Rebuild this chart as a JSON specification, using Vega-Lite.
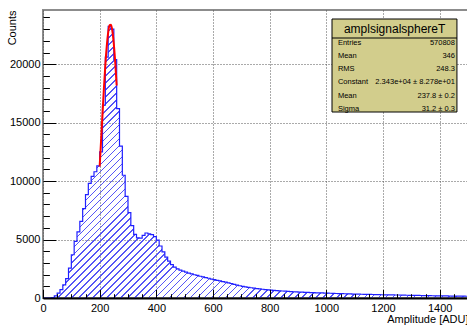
{
  "$schema": "https://vega.github.io/schema/vega-lite/v6.json",
  "width": 425,
  "height": 288,
  "autosize": "none",
  "padding": {"left": 43, "top": 10, "right": 0, "bottom": 27},
  "background": "white",
  "config": {
    "view": {"stroke": "#8c8c8c", "strokeWidth": 2},
    "font": "Liberation Sans",
    "axis": {"labelFont": "Liberation Sans", "titleFont": "Liberation Sans"}
  },
  "datasets": {
    "hist": [
      {"amp":0,"counts":0},{"amp":10,"counts":0},{"amp":20,"counts":0},{"amp":30,"counts":30},{"amp":40,"counts":190},
      {"amp":50,"counts":420},{"amp":60,"counts":720},{"amp":70,"counts":1120},{"amp":80,"counts":1650},{"amp":90,"counts":2550},
      {"amp":100,"counts":3700},{"amp":110,"counts":4850},{"amp":120,"counts":5650},{"amp":130,"counts":6550},{"amp":140,"counts":7650},
      {"amp":150,"counts":8850},{"amp":160,"counts":9800},{"amp":170,"counts":10400},{"amp":180,"counts":10800},{"amp":190,"counts":11300},
      {"amp":200,"counts":12500},{"amp":210,"counts":16500},{"amp":220,"counts":20600},{"amp":230,"counts":23250},{"amp":240,"counts":23000},
      {"amp":250,"counts":20400},{"amp":260,"counts":16200},{"amp":270,"counts":13000},{"amp":280,"counts":10500},{"amp":290,"counts":8700},
      {"amp":300,"counts":7300},{"amp":310,"counts":6200},{"amp":320,"counts":5450},{"amp":330,"counts":5150},{"amp":340,"counts":5120},
      {"amp":350,"counts":5350},{"amp":360,"counts":5560},{"amp":370,"counts":5480},{"amp":380,"counts":5430},{"amp":390,"counts":5250},
      {"amp":400,"counts":4950},{"amp":410,"counts":4450},{"amp":420,"counts":3950},{"amp":430,"counts":3500},{"amp":440,"counts":3150},
      {"amp":450,"counts":2850},{"amp":460,"counts":2650},{"amp":470,"counts":2500},{"amp":480,"counts":2390},{"amp":490,"counts":2300},
      {"amp":500,"counts":2210},{"amp":510,"counts":2130},{"amp":520,"counts":2060},{"amp":530,"counts":1990},{"amp":540,"counts":1930},
      {"amp":550,"counts":1860},{"amp":560,"counts":1800},{"amp":570,"counts":1740},{"amp":580,"counts":1690},{"amp":590,"counts":1620},
      {"amp":600,"counts":1570},{"amp":610,"counts":1510},{"amp":620,"counts":1460},{"amp":630,"counts":1400},{"amp":640,"counts":1350},
      {"amp":650,"counts":1300},{"amp":660,"counts":1240},{"amp":670,"counts":1170},{"amp":680,"counts":1110},{"amp":690,"counts":1050},
      {"amp":700,"counts":1000},{"amp":710,"counts":960},{"amp":720,"counts":915},{"amp":730,"counts":875},{"amp":740,"counts":845},
      {"amp":750,"counts":805},{"amp":760,"counts":775},{"amp":770,"counts":750},{"amp":780,"counts":720},{"amp":790,"counts":700},
      {"amp":800,"counts":675},{"amp":810,"counts":655},{"amp":820,"counts":635},{"amp":830,"counts":615},{"amp":840,"counts":600},
      {"amp":850,"counts":585},{"amp":860,"counts":565},{"amp":870,"counts":550},{"amp":880,"counts":535},{"amp":890,"counts":525},
      {"amp":900,"counts":510},{"amp":910,"counts":500},{"amp":920,"counts":485},{"amp":930,"counts":475},{"amp":940,"counts":465},
      {"amp":950,"counts":455},{"amp":960,"counts":445},{"amp":970,"counts":440},{"amp":980,"counts":430},{"amp":990,"counts":420},
      {"amp":1000,"counts":410},{"amp":1010,"counts":405},{"amp":1020,"counts":390},{"amp":1030,"counts":385},{"amp":1040,"counts":375},
      {"amp":1050,"counts":370},{"amp":1060,"counts":365},{"amp":1070,"counts":355},{"amp":1080,"counts":350},{"amp":1090,"counts":340},
      {"amp":1100,"counts":335},{"amp":1110,"counts":330},{"amp":1120,"counts":320},{"amp":1130,"counts":315},{"amp":1140,"counts":310},
      {"amp":1150,"counts":305},{"amp":1160,"counts":300},{"amp":1170,"counts":295},{"amp":1180,"counts":290},{"amp":1190,"counts":280},
      {"amp":1200,"counts":275},{"amp":1210,"counts":270},{"amp":1220,"counts":265},{"amp":1230,"counts":260},{"amp":1240,"counts":255},
      {"amp":1250,"counts":258},{"amp":1260,"counts":245},{"amp":1270,"counts":240},{"amp":1280,"counts":235},{"amp":1290,"counts":230},
      {"amp":1300,"counts":228},{"amp":1310,"counts":222},{"amp":1320,"counts":218},{"amp":1330,"counts":215},{"amp":1340,"counts":207},
      {"amp":1350,"counts":203},{"amp":1360,"counts":198},{"amp":1370,"counts":194},{"amp":1380,"counts":190},{"amp":1390,"counts":186},
      {"amp":1400,"counts":182},{"amp":1410,"counts":178},{"amp":1420,"counts":174},{"amp":1430,"counts":170},{"amp":1440,"counts":167},
      {"amp":1450,"counts":163},{"amp":1460,"counts":160},{"amp":1470,"counts":156},{"amp":1480,"counts":153},{"amp":1490,"counts":150},
      {"amp":1500,"counts":150}
    ],
    "fit": [
      {"amp":200,"counts":11250},{"amp":205,"counts":13480},{"amp":210,"counts":15750},{"amp":215,"counts":17940},
      {"amp":220,"counts":19910},{"amp":225,"counts":21530},{"amp":230,"counts":22710},{"amp":235,"counts":23340},
      {"amp":240,"counts":23370},{"amp":245,"counts":22820},{"amp":250,"counts":21710},{"amp":255,"counts":20130},
      {"amp":260,"counts":18180}
    ]
  },
  "resolve": {"axis": {"x": "independent", "y": "independent"}},
  "layer": [
    {
      "data": {"name": "hist"},
      "mark": {
        "type": "area",
        "interpolate": "step-after",
        "fillOpacity": 1,
        "fill": {
          "gradient": "linear", "x1": 0, "y1": 0, "x2": 1.1635, "y2": 0.7439,
          "stops": [
{"offset":0,"color":"#fff0"},{"offset":0,"color":"#5656f6"},{"offset":0.0022,"color":"#5656f6"},{"offset":0.0022,"color":"#fff0"},
{"offset":0.01,"color":"#fff0"},{"offset":0.01,"color":"#5656f6"},{"offset":0.0122,"color":"#5656f6"},{"offset":0.0122,"color":"#fff0"},
{"offset":0.02,"color":"#fff0"},{"offset":0.02,"color":"#5656f6"},{"offset":0.0222,"color":"#5656f6"},{"offset":0.0222,"color":"#fff0"},
{"offset":0.03,"color":"#fff0"},{"offset":0.03,"color":"#5656f6"},{"offset":0.0322,"color":"#5656f6"},{"offset":0.0322,"color":"#fff0"},
{"offset":0.04,"color":"#fff0"},{"offset":0.04,"color":"#5656f6"},{"offset":0.0422,"color":"#5656f6"},{"offset":0.0422,"color":"#fff0"},
{"offset":0.05,"color":"#fff0"},{"offset":0.05,"color":"#5656f6"},{"offset":0.0522,"color":"#5656f6"},{"offset":0.0522,"color":"#fff0"},
{"offset":0.06,"color":"#fff0"},{"offset":0.06,"color":"#5656f6"},{"offset":0.0622,"color":"#5656f6"},{"offset":0.0622,"color":"#fff0"},
{"offset":0.07,"color":"#fff0"},{"offset":0.07,"color":"#5656f6"},{"offset":0.0722,"color":"#5656f6"},{"offset":0.0722,"color":"#fff0"},
{"offset":0.08,"color":"#fff0"},{"offset":0.08,"color":"#5656f6"},{"offset":0.0822,"color":"#5656f6"},{"offset":0.0822,"color":"#fff0"},
{"offset":0.09,"color":"#fff0"},{"offset":0.09,"color":"#5656f6"},{"offset":0.0922,"color":"#5656f6"},{"offset":0.0922,"color":"#fff0"},
{"offset":0.10,"color":"#fff0"},{"offset":0.10,"color":"#5656f6"},{"offset":0.1022,"color":"#5656f6"},{"offset":0.1022,"color":"#fff0"},
{"offset":0.11,"color":"#fff0"},{"offset":0.11,"color":"#5656f6"},{"offset":0.1122,"color":"#5656f6"},{"offset":0.1122,"color":"#fff0"},
{"offset":0.12,"color":"#fff0"},{"offset":0.12,"color":"#5656f6"},{"offset":0.1222,"color":"#5656f6"},{"offset":0.1222,"color":"#fff0"},
{"offset":0.13,"color":"#fff0"},{"offset":0.13,"color":"#5656f6"},{"offset":0.1322,"color":"#5656f6"},{"offset":0.1322,"color":"#fff0"},
{"offset":0.14,"color":"#fff0"},{"offset":0.14,"color":"#5656f6"},{"offset":0.1422,"color":"#5656f6"},{"offset":0.1422,"color":"#fff0"},
{"offset":0.15,"color":"#fff0"},{"offset":0.15,"color":"#5656f6"},{"offset":0.1522,"color":"#5656f6"},{"offset":0.1522,"color":"#fff0"},
{"offset":0.16,"color":"#fff0"},{"offset":0.16,"color":"#5656f6"},{"offset":0.1622,"color":"#5656f6"},{"offset":0.1622,"color":"#fff0"},
{"offset":0.17,"color":"#fff0"},{"offset":0.17,"color":"#5656f6"},{"offset":0.1722,"color":"#5656f6"},{"offset":0.1722,"color":"#fff0"},
{"offset":0.18,"color":"#fff0"},{"offset":0.18,"color":"#5656f6"},{"offset":0.1822,"color":"#5656f6"},{"offset":0.1822,"color":"#fff0"},
{"offset":0.19,"color":"#fff0"},{"offset":0.19,"color":"#5656f6"},{"offset":0.1922,"color":"#5656f6"},{"offset":0.1922,"color":"#fff0"},
{"offset":0.20,"color":"#fff0"},{"offset":0.20,"color":"#5656f6"},{"offset":0.2022,"color":"#5656f6"},{"offset":0.2022,"color":"#fff0"},
{"offset":0.21,"color":"#fff0"},{"offset":0.21,"color":"#5656f6"},{"offset":0.2122,"color":"#5656f6"},{"offset":0.2122,"color":"#fff0"},
{"offset":0.22,"color":"#fff0"},{"offset":0.22,"color":"#5656f6"},{"offset":0.2222,"color":"#5656f6"},{"offset":0.2222,"color":"#fff0"},
{"offset":0.23,"color":"#fff0"},{"offset":0.23,"color":"#5656f6"},{"offset":0.2322,"color":"#5656f6"},{"offset":0.2322,"color":"#fff0"},
{"offset":0.24,"color":"#fff0"},{"offset":0.24,"color":"#5656f6"},{"offset":0.2422,"color":"#5656f6"},{"offset":0.2422,"color":"#fff0"},
{"offset":0.25,"color":"#fff0"},{"offset":0.25,"color":"#5656f6"},{"offset":0.2522,"color":"#5656f6"},{"offset":0.2522,"color":"#fff0"},
{"offset":0.26,"color":"#fff0"},{"offset":0.26,"color":"#5656f6"},{"offset":0.2622,"color":"#5656f6"},{"offset":0.2622,"color":"#fff0"},
{"offset":0.27,"color":"#fff0"},{"offset":0.27,"color":"#5656f6"},{"offset":0.2722,"color":"#5656f6"},{"offset":0.2722,"color":"#fff0"},
{"offset":0.28,"color":"#fff0"},{"offset":0.28,"color":"#5656f6"},{"offset":0.2822,"color":"#5656f6"},{"offset":0.2822,"color":"#fff0"},
{"offset":0.29,"color":"#fff0"},{"offset":0.29,"color":"#5656f6"},{"offset":0.2922,"color":"#5656f6"},{"offset":0.2922,"color":"#fff0"},
{"offset":0.30,"color":"#fff0"},{"offset":0.30,"color":"#5656f6"},{"offset":0.3022,"color":"#5656f6"},{"offset":0.3022,"color":"#fff0"},
{"offset":0.31,"color":"#fff0"},{"offset":0.31,"color":"#5656f6"},{"offset":0.3122,"color":"#5656f6"},{"offset":0.3122,"color":"#fff0"},
{"offset":0.32,"color":"#fff0"},{"offset":0.32,"color":"#5656f6"},{"offset":0.3222,"color":"#5656f6"},{"offset":0.3222,"color":"#fff0"},
{"offset":0.33,"color":"#fff0"},{"offset":0.33,"color":"#5656f6"},{"offset":0.3322,"color":"#5656f6"},{"offset":0.3322,"color":"#fff0"},
{"offset":0.34,"color":"#fff0"},{"offset":0.34,"color":"#5656f6"},{"offset":0.3422,"color":"#5656f6"},{"offset":0.3422,"color":"#fff0"},
{"offset":0.35,"color":"#fff0"},{"offset":0.35,"color":"#5656f6"},{"offset":0.3522,"color":"#5656f6"},{"offset":0.3522,"color":"#fff0"},
{"offset":0.36,"color":"#fff0"},{"offset":0.36,"color":"#5656f6"},{"offset":0.3622,"color":"#5656f6"},{"offset":0.3622,"color":"#fff0"},
{"offset":0.37,"color":"#fff0"},{"offset":0.37,"color":"#5656f6"},{"offset":0.3722,"color":"#5656f6"},{"offset":0.3722,"color":"#fff0"},
{"offset":0.38,"color":"#fff0"},{"offset":0.38,"color":"#5656f6"},{"offset":0.3822,"color":"#5656f6"},{"offset":0.3822,"color":"#fff0"},
{"offset":0.39,"color":"#fff0"},{"offset":0.39,"color":"#5656f6"},{"offset":0.3922,"color":"#5656f6"},{"offset":0.3922,"color":"#fff0"},
{"offset":0.40,"color":"#fff0"},{"offset":0.40,"color":"#5656f6"},{"offset":0.4022,"color":"#5656f6"},{"offset":0.4022,"color":"#fff0"},
{"offset":0.41,"color":"#fff0"},{"offset":0.41,"color":"#5656f6"},{"offset":0.4122,"color":"#5656f6"},{"offset":0.4122,"color":"#fff0"},
{"offset":0.42,"color":"#fff0"},{"offset":0.42,"color":"#5656f6"},{"offset":0.4222,"color":"#5656f6"},{"offset":0.4222,"color":"#fff0"},
{"offset":0.43,"color":"#fff0"},{"offset":0.43,"color":"#5656f6"},{"offset":0.4322,"color":"#5656f6"},{"offset":0.4322,"color":"#fff0"},
{"offset":0.44,"color":"#fff0"},{"offset":0.44,"color":"#5656f6"},{"offset":0.4422,"color":"#5656f6"},{"offset":0.4422,"color":"#fff0"},
{"offset":0.45,"color":"#fff0"},{"offset":0.45,"color":"#5656f6"},{"offset":0.4522,"color":"#5656f6"},{"offset":0.4522,"color":"#fff0"},
{"offset":0.46,"color":"#fff0"},{"offset":0.46,"color":"#5656f6"},{"offset":0.4622,"color":"#5656f6"},{"offset":0.4622,"color":"#fff0"},
{"offset":0.47,"color":"#fff0"},{"offset":0.47,"color":"#5656f6"},{"offset":0.4722,"color":"#5656f6"},{"offset":0.4722,"color":"#fff0"},
{"offset":0.48,"color":"#fff0"},{"offset":0.48,"color":"#5656f6"},{"offset":0.4822,"color":"#5656f6"},{"offset":0.4822,"color":"#fff0"},
{"offset":0.49,"color":"#fff0"},{"offset":0.49,"color":"#5656f6"},{"offset":0.4922,"color":"#5656f6"},{"offset":0.4922,"color":"#fff0"},
{"offset":0.50,"color":"#fff0"},{"offset":0.50,"color":"#5656f6"},{"offset":0.5022,"color":"#5656f6"},{"offset":0.5022,"color":"#fff0"},
{"offset":0.51,"color":"#fff0"},{"offset":0.51,"color":"#5656f6"},{"offset":0.5122,"color":"#5656f6"},{"offset":0.5122,"color":"#fff0"},
{"offset":0.52,"color":"#fff0"},{"offset":0.52,"color":"#5656f6"},{"offset":0.5222,"color":"#5656f6"},{"offset":0.5222,"color":"#fff0"},
{"offset":0.53,"color":"#fff0"},{"offset":0.53,"color":"#5656f6"},{"offset":0.5322,"color":"#5656f6"},{"offset":0.5322,"color":"#fff0"},
{"offset":0.54,"color":"#fff0"},{"offset":0.54,"color":"#5656f6"},{"offset":0.5422,"color":"#5656f6"},{"offset":0.5422,"color":"#fff0"},
{"offset":0.55,"color":"#fff0"},{"offset":0.55,"color":"#5656f6"},{"offset":0.5522,"color":"#5656f6"},{"offset":0.5522,"color":"#fff0"},
{"offset":0.56,"color":"#fff0"},{"offset":0.56,"color":"#5656f6"},{"offset":0.5622,"color":"#5656f6"},{"offset":0.5622,"color":"#fff0"},
{"offset":0.57,"color":"#fff0"},{"offset":0.57,"color":"#5656f6"},{"offset":0.5722,"color":"#5656f6"},{"offset":0.5722,"color":"#fff0"},
{"offset":0.58,"color":"#fff0"},{"offset":0.58,"color":"#5656f6"},{"offset":0.5822,"color":"#5656f6"},{"offset":0.5822,"color":"#fff0"},
{"offset":0.59,"color":"#fff0"},{"offset":0.59,"color":"#5656f6"},{"offset":0.5922,"color":"#5656f6"},{"offset":0.5922,"color":"#fff0"},
{"offset":0.60,"color":"#fff0"},{"offset":0.60,"color":"#5656f6"},{"offset":0.6022,"color":"#5656f6"},{"offset":0.6022,"color":"#fff0"},
{"offset":0.61,"color":"#fff0"},{"offset":0.61,"color":"#5656f6"},{"offset":0.6122,"color":"#5656f6"},{"offset":0.6122,"color":"#fff0"},
{"offset":0.62,"color":"#fff0"},{"offset":0.62,"color":"#5656f6"},{"offset":0.6222,"color":"#5656f6"},{"offset":0.6222,"color":"#fff0"},
{"offset":0.63,"color":"#fff0"},{"offset":0.63,"color":"#5656f6"},{"offset":0.6322,"color":"#5656f6"},{"offset":0.6322,"color":"#fff0"},
{"offset":0.64,"color":"#fff0"},{"offset":0.64,"color":"#5656f6"},{"offset":0.6422,"color":"#5656f6"},{"offset":0.6422,"color":"#fff0"},
{"offset":0.65,"color":"#fff0"},{"offset":0.65,"color":"#5656f6"},{"offset":0.6522,"color":"#5656f6"},{"offset":0.6522,"color":"#fff0"},
{"offset":0.66,"color":"#fff0"},{"offset":0.66,"color":"#5656f6"},{"offset":0.6622,"color":"#5656f6"},{"offset":0.6622,"color":"#fff0"},
{"offset":0.67,"color":"#fff0"},{"offset":0.67,"color":"#5656f6"},{"offset":0.6722,"color":"#5656f6"},{"offset":0.6722,"color":"#fff0"},
{"offset":0.68,"color":"#fff0"},{"offset":0.68,"color":"#5656f6"},{"offset":0.6822,"color":"#5656f6"},{"offset":0.6822,"color":"#fff0"},
{"offset":0.69,"color":"#fff0"},{"offset":0.69,"color":"#5656f6"},{"offset":0.6922,"color":"#5656f6"},{"offset":0.6922,"color":"#fff0"},
{"offset":0.70,"color":"#fff0"},{"offset":0.70,"color":"#5656f6"},{"offset":0.7022,"color":"#5656f6"},{"offset":0.7022,"color":"#fff0"},
{"offset":0.71,"color":"#fff0"},{"offset":0.71,"color":"#5656f6"},{"offset":0.7122,"color":"#5656f6"},{"offset":0.7122,"color":"#fff0"},
{"offset":0.72,"color":"#fff0"},{"offset":0.72,"color":"#5656f6"},{"offset":0.7222,"color":"#5656f6"},{"offset":0.7222,"color":"#fff0"},
{"offset":0.73,"color":"#fff0"},{"offset":0.73,"color":"#5656f6"},{"offset":0.7322,"color":"#5656f6"},{"offset":0.7322,"color":"#fff0"},
{"offset":0.74,"color":"#fff0"},{"offset":0.74,"color":"#5656f6"},{"offset":0.7422,"color":"#5656f6"},{"offset":0.7422,"color":"#fff0"},
{"offset":0.75,"color":"#fff0"},{"offset":0.75,"color":"#5656f6"},{"offset":0.7522,"color":"#5656f6"},{"offset":0.7522,"color":"#fff0"},
{"offset":0.76,"color":"#fff0"},{"offset":0.76,"color":"#5656f6"},{"offset":0.7622,"color":"#5656f6"},{"offset":0.7622,"color":"#fff0"},
{"offset":0.77,"color":"#fff0"},{"offset":0.77,"color":"#5656f6"},{"offset":0.7722,"color":"#5656f6"},{"offset":0.7722,"color":"#fff0"},
{"offset":0.78,"color":"#fff0"},{"offset":0.78,"color":"#5656f6"},{"offset":0.7822,"color":"#5656f6"},{"offset":0.7822,"color":"#fff0"},
{"offset":0.79,"color":"#fff0"},{"offset":0.79,"color":"#5656f6"},{"offset":0.7922,"color":"#5656f6"},{"offset":0.7922,"color":"#fff0"},
{"offset":0.80,"color":"#fff0"},{"offset":0.80,"color":"#5656f6"},{"offset":0.8022,"color":"#5656f6"},{"offset":0.8022,"color":"#fff0"},
{"offset":0.81,"color":"#fff0"},{"offset":0.81,"color":"#5656f6"},{"offset":0.8122,"color":"#5656f6"},{"offset":0.8122,"color":"#fff0"},
{"offset":0.82,"color":"#fff0"},{"offset":0.82,"color":"#5656f6"},{"offset":0.8222,"color":"#5656f6"},{"offset":0.8222,"color":"#fff0"},
{"offset":0.83,"color":"#fff0"},{"offset":0.83,"color":"#5656f6"},{"offset":0.8322,"color":"#5656f6"},{"offset":0.8322,"color":"#fff0"},
{"offset":0.84,"color":"#fff0"},{"offset":0.84,"color":"#5656f6"},{"offset":0.8422,"color":"#5656f6"},{"offset":0.8422,"color":"#fff0"},
{"offset":0.85,"color":"#fff0"},{"offset":0.85,"color":"#5656f6"},{"offset":0.8522,"color":"#5656f6"},{"offset":0.8522,"color":"#fff0"},
{"offset":0.86,"color":"#fff0"},{"offset":0.86,"color":"#5656f6"},{"offset":0.8622,"color":"#5656f6"},{"offset":0.8622,"color":"#fff0"},
{"offset":0.87,"color":"#fff0"},{"offset":0.87,"color":"#5656f6"},{"offset":0.8722,"color":"#5656f6"},{"offset":0.8722,"color":"#fff0"},
{"offset":0.88,"color":"#fff0"},{"offset":0.88,"color":"#5656f6"},{"offset":0.8822,"color":"#5656f6"},{"offset":0.8822,"color":"#fff0"},
{"offset":0.89,"color":"#fff0"},{"offset":0.89,"color":"#5656f6"},{"offset":0.8922,"color":"#5656f6"},{"offset":0.8922,"color":"#fff0"},
{"offset":0.90,"color":"#fff0"},{"offset":0.90,"color":"#5656f6"},{"offset":0.9022,"color":"#5656f6"},{"offset":0.9022,"color":"#fff0"},
{"offset":0.91,"color":"#fff0"},{"offset":0.91,"color":"#5656f6"},{"offset":0.9122,"color":"#5656f6"},{"offset":0.9122,"color":"#fff0"},
{"offset":0.92,"color":"#fff0"},{"offset":0.92,"color":"#5656f6"},{"offset":0.9222,"color":"#5656f6"},{"offset":0.9222,"color":"#fff0"},
{"offset":0.93,"color":"#fff0"},{"offset":0.93,"color":"#5656f6"},{"offset":0.9322,"color":"#5656f6"},{"offset":0.9322,"color":"#fff0"},
{"offset":0.94,"color":"#fff0"},{"offset":0.94,"color":"#5656f6"},{"offset":0.9422,"color":"#5656f6"},{"offset":0.9422,"color":"#fff0"},
{"offset":0.95,"color":"#fff0"},{"offset":0.95,"color":"#5656f6"},{"offset":0.9522,"color":"#5656f6"},{"offset":0.9522,"color":"#fff0"},
{"offset":0.96,"color":"#fff0"},{"offset":0.96,"color":"#5656f6"},{"offset":0.9622,"color":"#5656f6"},{"offset":0.9622,"color":"#fff0"},
{"offset":0.97,"color":"#fff0"},{"offset":0.97,"color":"#5656f6"},{"offset":0.9722,"color":"#5656f6"},{"offset":0.9722,"color":"#fff0"},
{"offset":0.98,"color":"#fff0"},{"offset":0.98,"color":"#5656f6"},{"offset":0.9822,"color":"#5656f6"},{"offset":0.9822,"color":"#fff0"},
{"offset":0.99,"color":"#fff0"},{"offset":0.99,"color":"#5656f6"},{"offset":0.9922,"color":"#5656f6"},{"offset":0.9922,"color":"#fff0"},
{"offset":1,"color":"#fff0"}
          ]
        }
      },
      "encoding": {
        "x": {"field": "amp", "type": "quantitative", "scale": {"domain": [0, 1500]},
          "axis": {"values": [0,200,400,600,800,1000,1200,1400], "grid": true, "gridColor": "#555", "gridDash": [1,2], "gridWidth": 1,
            "ticks": false, "labels": false, "domain": false, "title": null, "zindex": 0}},
        "y": {"field": "counts", "type": "quantitative", "scale": {"domain": [0, 24640]},
          "axis": {"values": [0,5000,10000,15000,20000], "grid": true, "gridColor": "#555", "gridDash": [1,2], "gridWidth": 1,
            "ticks": false, "labels": false, "domain": false, "title": null, "zindex": 0}}
      }
    },
    {
      "data": {"name": "hist"},
      "mark": {"type": "line", "interpolate": "step-after", "color": "#1f1fff", "strokeWidth": 1.2},
      "encoding": {
        "x": {"field": "amp", "type": "quantitative", "scale": {"domain": [0, 1500]},
          "axis": {"orient": "bottom", "values": [0,200,400,600,800,1000,1200,1400], "format": "d", "grid": false,
            "tickSize": -8.6, "tickColor": "#000", "tickWidth": 1, "domain": true, "domainColor": "#000", "domainWidth": 2,
            "labelFontSize": 11, "labelColor": "#000", "labelPadding": 12.6, "labelFlush": false, "labelOverlap": false,
            "title": "Amplitude [ADU]", "titleFontSize": 11, "titleFontWeight": "normal", "titleColor": "#000",
            "titleAnchor": "end", "titleAlign": "right", "titleBaseline": "top", "titlePadding": 0, "zindex": 1}},
        "y": {"field": "counts", "type": "quantitative", "scale": {"domain": [0, 24640]},
          "axis": {"orient": "left", "values": [0,5000,10000,15000,20000], "format": "d", "grid": false,
            "tickSize": -12.75, "tickColor": "#000", "tickWidth": 1, "domain": false,
            "labelFontSize": 11, "labelColor": "#000", "labelPadding": 15.75, "labelFlush": false, "labelOverlap": false,
            "title": "Counts", "titleFontSize": 11, "titleFontWeight": "normal", "titleColor": "#000",
            "titleAnchor": "end", "titleAlign": "right", "titleBaseline": "bottom", "titlePadding": -8, "zindex": 1}}
      }
    },
    {
      "data": {"name": "fit"},
      "mark": {"type": "line", "interpolate": "monotone", "color": "#ff0000", "strokeWidth": 2},
      "encoding": {
        "x": {"field": "amp", "type": "quantitative", "scale": {"domain": [0, 1500]},
          "axis": {"orient": "bottom", "values": [50,100,150,250,300,350,450,500,550,650,700,750,850,900,950,1050,1100,1150,1250,1300,1350,1450],
            "labels": false, "grid": false, "domain": false, "title": null, "tickSize": -4.3, "tickColor": "#000", "tickWidth": 1, "zindex": 1}},
        "y": {"field": "counts", "type": "quantitative", "scale": {"domain": [0, 24640]},
          "axis": {"orient": "left", "values": [1000,2000,3000,4000,6000,7000,8000,9000,11000,12000,13000,14000,16000,17000,18000,19000,21000,22000,23000,24000],
            "labels": false, "grid": false, "domain": false, "title": null, "tickSize": -6.4, "tickColor": "#000", "tickWidth": 1, "zindex": 1}}
      }
    },
    {
      "data": {"values": [{}]},
      "mark": {"type": "rect", "fill": "#d2cd8c", "stroke": "#000", "strokeWidth": 1},
      "encoding": {
        "x": {"datum": 1020, "type": "quantitative", "scale": {"domain": [0, 1500]}, "axis": null},
        "x2": {"datum": 1461},
        "y": {"datum": 23870, "type": "quantitative", "scale": {"domain": [0, 24640]}, "axis": null},
        "y2": {"datum": 15913}
      }
    },
    {
      "data": {"values": [{}]},
      "mark": {"type": "rule", "color": "#000", "strokeWidth": 1},
      "encoding": {
        "x": {"datum": 1020, "type": "quantitative", "scale": {"domain": [0, 1500]}, "axis": null},
        "x2": {"datum": 1461},
        "y": {"datum": 22244, "type": "quantitative", "scale": {"domain": [0, 24640]}, "axis": null}
      }
    },
    {
      "data": {"values": [{}]},
      "mark": {"type": "text", "text": "amplsignalsphereT", "font": "Liberation Sans", "fontSize": 12, "align": "center", "baseline": "middle", "color": "#000"},
      "encoding": {
        "x": {"datum": 1241, "type": "quantitative", "scale": {"domain": [0, 1500]}, "axis": null},
        "y": {"datum": 23057, "type": "quantitative", "scale": {"domain": [0, 24640]}, "axis": null}
      }
    },
    {
      "data": {"values": [{}]},
      "mark": {"type": "text", "text": ["Entries", "Mean", "RMS", "Constant", "Mean", "Sigma"], "font": "Liberation Sans", "fontSize": 7.5, "align": "left", "baseline": "alphabetic", "lineHeight": 13.3, "color": "#000"},
      "encoding": {
        "x": {"datum": 1041, "type": "quantitative", "scale": {"domain": [0, 1500]}, "axis": null},
        "y": {"datum": 21688, "type": "quantitative", "scale": {"domain": [0, 24640]}, "axis": null}
      }
    },
    {
      "data": {"values": [{}]},
      "mark": {"type": "text", "text": ["570808", "346", "248.3", "2.343e+04 ± 8.278e+01", "237.8 ± 0.2", "31.2 ± 0.3"], "font": "Liberation Sans", "fontSize": 7.5, "align": "right", "baseline": "alphabetic", "lineHeight": 13.3, "color": "#000"},
      "encoding": {
        "x": {"datum": 1454, "type": "quantitative", "scale": {"domain": [0, 1500]}, "axis": null},
        "y": {"datum": 21688, "type": "quantitative", "scale": {"domain": [0, 24640]}, "axis": null}
      }
    }
  ]
}
